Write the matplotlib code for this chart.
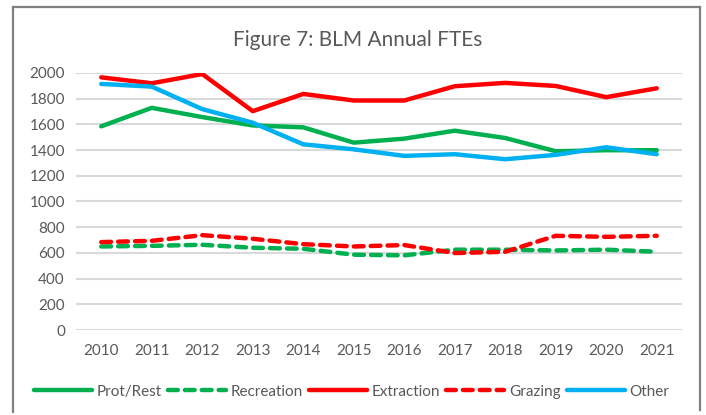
import matplotlib.pyplot as plt
from matplotlib.lines import Line2D

years = ['2010', '2011', '2012', '2013', '2014', '2015',
         '2016', '2017', '2018', '2019', '2020', '2021']
prot_rest = [1585, 1729, 1657, 1592, 1577, 1458, 1489, 1551, 1494, 1391, 1399, 1399]
recreation = [650, 655, 663, 640, 632, 586, 581, 625, 625, 619, 625, 609]
extraction = [1966, 1920, 1992, 1703, 1837, 1786, 1786, 1897, 1923, 1899, 1812, 1881]
grazing = [684, 694, 738, 710, 668, 650, 661, 599, 609, 733, 725, 733]
other = [1915, 1894, 1719, 1613, 1445, 1406, 1355, 1368, 1329, 1363, 1422, 1368]

plt.rcParams['font.family'] = ['Lato', 'DejaVu Sans']
txt = '#595959'
green, red, blue = '#00B050', '#FF0000', '#00B0F0'

fig = plt.figure(figsize=(7.06, 4.15), dpi=100)
ax = fig.add_axes([76 / 706, 1 - 330 / 415, 606 / 706, 257 / 415])

x = list(range(len(years)))
lw = 3.2
ax.plot(x, prot_rest, color=green, lw=lw, solid_capstyle='round', solid_joinstyle='round', label='Prot/Rest')
ax.plot(x, recreation, color=green, lw=lw, ls=(0, (2.2, 1.6)), dash_capstyle='round', label='Recreation')
ax.plot(x, extraction, color=red, lw=lw, solid_capstyle='round', solid_joinstyle='round', label='Extraction')
ax.plot(x, grazing, color=red, lw=lw, ls=(0, (2.2, 1.6)), dash_capstyle='round', label='Grazing')
ax.plot(x, other, color=blue, lw=lw, solid_capstyle='round', solid_joinstyle='round', label='Other')

ax.set_xlim(-0.5, len(years) - 0.5)
ax.set_ylim(0, 2000)
ax.set_yticks(range(0, 2001, 200))
ax.set_xticks(x)
ax.set_xticklabels(years)
ax.grid(axis='y', color='#d9d9d9', lw=1.5)
ax.set_axisbelow(True)
for s in ax.spines.values():
    s.set_visible(False)
ax.tick_params(length=0, labelsize=11, labelcolor=txt)
ax.tick_params(axis='y', pad=8)
ax.tick_params(axis='x', pad=10)

fig.text(358 / 706, 1 - 40 / 415, 'Figure 7: BLM Annual FTEs', ha='center', va='center',
         fontsize=15, color=txt)

ax.legend(loc='center', bbox_to_anchor=(0.455, -0.24), ncol=5, frameon=False,
          fontsize=11, labelcolor=txt, handlelength=3.8, handletextpad=0.3,
          columnspacing=0.4)

# chart border (bottom edge cut off)
bc = '#808080'
fig.add_artist(Line2D([13 / 706, 13 / 706], [1 - 412 / 415, 1 - 7 / 415], color=bc, lw=1.6))
fig.add_artist(Line2D([13 / 706, 700 / 706], [1 - 7 / 415, 1 - 7 / 415], color=bc, lw=1.6))
fig.add_artist(Line2D([700 / 706, 700 / 706], [1 - 410 / 415, 1 - 7 / 415], color=bc, lw=1.6))

plt.savefig('out.png', dpi=100)
